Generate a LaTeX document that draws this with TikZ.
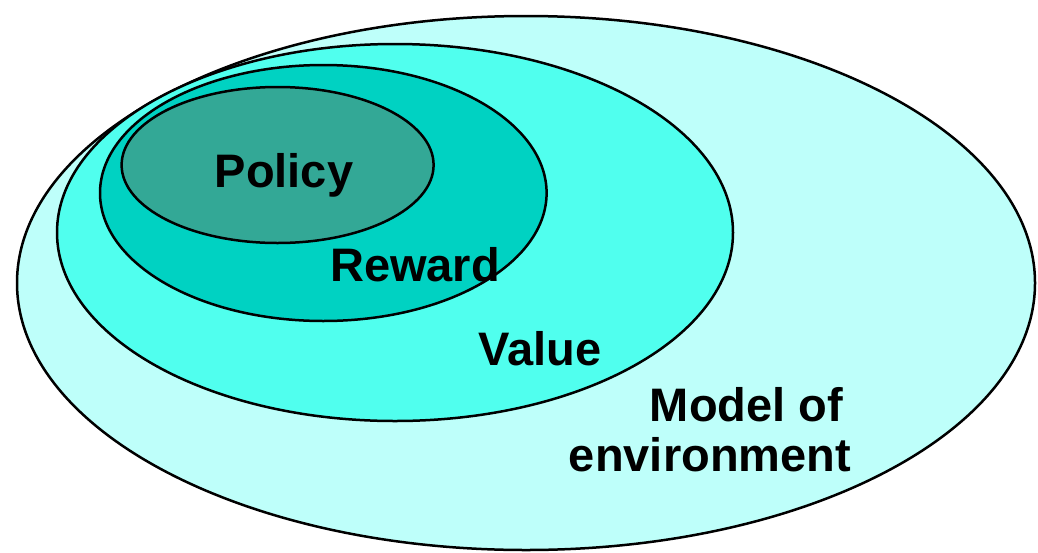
\documentclass[tikz,border=0pt]{standalone}
\usepackage{fontspec}
\setmainfont{Liberation Sans}
\definecolor{cOuter}{RGB}{190,255,250}
\definecolor{cValue}{RGB}{80,255,238}
\definecolor{cReward}{RGB}{0,210,194}
\definecolor{cPolicy}{RGB}{51,168,150}
\tikzset{
  layer/.style={draw=black, line width=2.5pt},
  lbl/.style={anchor=base, inner sep=0pt, font=\fontsize{47}{50}\selectfont\bfseries}
}
\begin{document}
\begin{tikzpicture}[x=1pt,y=-1pt]
\useasboundingbox (0,0) rectangle (1038,552);
\path[layer, fill=cOuter] (526,283) ellipse [x radius=509, y radius=267];
\path[layer, fill=cValue] (395,232.5) ellipse [x radius=338, y radius=188.5];
\path[layer, fill=cReward] (323.3,193) ellipse [x radius=223.3, y radius=128];
\path[layer, fill=cPolicy] (277.6,165) ellipse [x radius=156, y radius=78];
\node[lbl] (policy) at (284,187) {Policy};
\node[lbl] (reward) at (415,281) {Reward};
\node[lbl] (value) at (540,365) {Value};
\node[lbl] (model) at (746.5,421.7) {Model of};
\node[lbl] (env) at (710,471.7) {environment};
\end{tikzpicture}
\end{document}
